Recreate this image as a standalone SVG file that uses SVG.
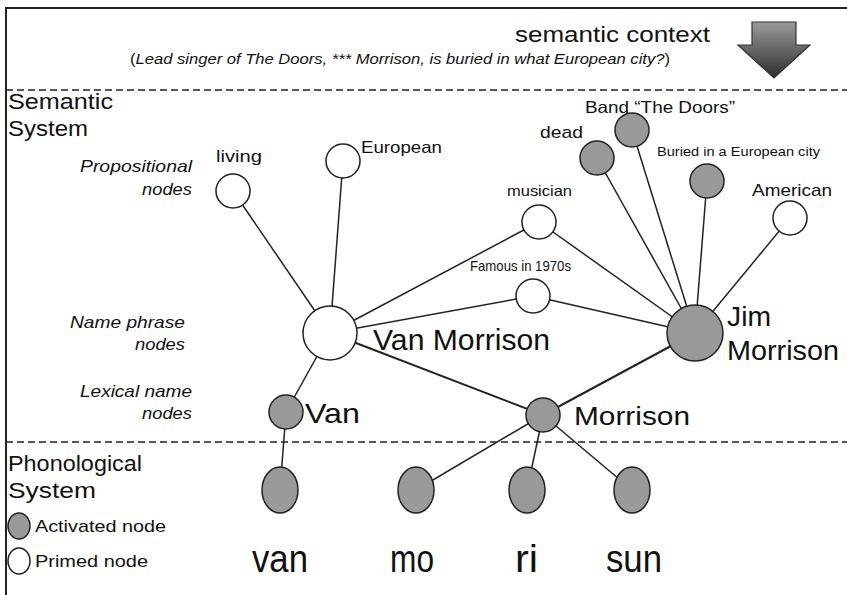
<svg xmlns="http://www.w3.org/2000/svg" width="847" height="595" viewBox="0 0 847 595">
<defs>
<linearGradient id="ag" x1="0" y1="0" x2="0" y2="1">
<stop offset="0" stop-color="#9a9a9a"/>
<stop offset="1" stop-color="#2e2e2e"/>
</linearGradient>
</defs>
<style>
text{font-family:"Liberation Sans",Arial,sans-serif;fill:#111}
.it{font-style:italic}
.n{stroke:#222;stroke-width:1.5}
.a{fill:#999}
.p{fill:#fff}
.c line{stroke:#222;stroke-width:1.5}
.dash{stroke:#222;stroke-width:1.5;stroke-dasharray:7 4}
</style>
<rect width="847" height="595" fill="#fff"/>
<path d="M6 595 V8 H847" fill="none" stroke="#222" stroke-width="2"/>
<line class="dash" x1="6" y1="90" x2="847" y2="90"/>
<line class="dash" x1="6" y1="442" x2="847" y2="442"/>

<g id="header">
<text x="515" y="42" font-size="22" textLength="195" lengthAdjust="spacingAndGlyphs">semantic  context</text>
<text x="130" y="64" font-size="14.5" textLength="540" lengthAdjust="spacingAndGlyphs">(<tspan class="it">Lead singer of The Doors, *** Morrison, is buried in what European city?</tspan>)</text>
<path d="M752 22 H796 V45 H810 L774 78 L738 45 H752 Z" fill="url(#ag)" stroke="#333" stroke-width="1.2"/>
</g>

<g id="labels">
<text x="8" y="109" font-size="22" textLength="105" lengthAdjust="spacingAndGlyphs">Semantic</text>
<text x="8" y="136" font-size="22" textLength="80" lengthAdjust="spacingAndGlyphs">System</text>
<text x="192" y="172" font-size="16.5" class="it" text-anchor="end" textLength="112" lengthAdjust="spacingAndGlyphs">Propositional</text>
<text x="192" y="195" font-size="16.5" class="it" text-anchor="end" textLength="50" lengthAdjust="spacingAndGlyphs">nodes</text>
<text x="185" y="328" font-size="16.5" class="it" text-anchor="end" textLength="115" lengthAdjust="spacingAndGlyphs">Name phrase</text>
<text x="185" y="350" font-size="16.5" class="it" text-anchor="end" textLength="50" lengthAdjust="spacingAndGlyphs">nodes</text>
<text x="192" y="397" font-size="16.5" class="it" text-anchor="end" textLength="112" lengthAdjust="spacingAndGlyphs">Lexical name</text>
<text x="192" y="419" font-size="16.5" class="it" text-anchor="end" textLength="50" lengthAdjust="spacingAndGlyphs">nodes</text>
<text x="8" y="471" font-size="22" textLength="134" lengthAdjust="spacingAndGlyphs">Phonological</text>
<text x="8" y="498" font-size="22" textLength="88" lengthAdjust="spacingAndGlyphs">System</text>
</g>

<g class="c">
<line x1="233" y1="191" x2="330" y2="333"/>
<line x1="343" y1="161" x2="330" y2="333"/>
<line x1="539" y1="222" x2="330" y2="333"/>
<line x1="533" y1="296" x2="330" y2="333"/>
<line x1="539" y1="222" x2="695" y2="333"/>
<line x1="533" y1="296" x2="695" y2="333"/>
<line x1="597" y1="158" x2="695" y2="333"/>
<line x1="632" y1="130" x2="695" y2="333"/>
<line x1="707" y1="181" x2="695" y2="333"/>
<line x1="790" y1="218" x2="695" y2="333"/>
<line x1="330" y1="333" x2="286" y2="412"/>
<line x1="330" y1="333" x2="543" y2="415" style="stroke-width:2"/>
<line x1="695" y1="333" x2="543" y2="415" style="stroke-width:2"/>
<line x1="286" y1="412" x2="280" y2="490"/>
<line x1="543" y1="415" x2="416" y2="490"/>
<line x1="543" y1="415" x2="527" y2="490"/>
<line x1="543" y1="415" x2="632" y2="490"/>
</g>

<g id="living"><circle class="n p" cx="233" cy="191" r="17"/><text x="216" y="162" font-size="16.5" textLength="46" lengthAdjust="spacingAndGlyphs">living</text></g>
<g id="european"><circle class="n p" cx="343" cy="161" r="17"/><text x="361" y="153" font-size="16.5" textLength="81" lengthAdjust="spacingAndGlyphs">European</text></g>
<g id="musician"><circle class="n p" cx="539" cy="222" r="17"/><text x="507" y="196" font-size="14.5" textLength="65" lengthAdjust="spacingAndGlyphs">musician</text></g>
<g id="famous"><circle class="n p" cx="533" cy="296" r="17"/><text x="470" y="271" font-size="14.5" textLength="101" lengthAdjust="spacingAndGlyphs">Famous in 1970s</text></g>
<g id="dead"><circle class="n a" cx="597" cy="158" r="17"/><text x="540" y="138" font-size="17" textLength="43" lengthAdjust="spacingAndGlyphs">dead</text></g>
<g id="band"><circle class="n a" cx="632" cy="130" r="17"/><text x="585" y="113" font-size="16.5" textLength="150" lengthAdjust="spacingAndGlyphs">Band “The Doors”</text></g>
<g id="buried"><circle class="n a" cx="707" cy="181" r="17"/><text x="657" y="156" font-size="13" textLength="163" lengthAdjust="spacingAndGlyphs">Buried in a European city</text></g>
<g id="american"><circle class="n p" cx="790" cy="218" r="17"/><text x="752" y="196" font-size="17" textLength="80" lengthAdjust="spacingAndGlyphs">American</text></g>

<g id="vanmorrison"><circle class="n p" cx="330" cy="333" r="27"/><text x="373" y="350" font-size="29" textLength="177" lengthAdjust="spacingAndGlyphs">Van Morrison</text></g>
<g id="jimmorrison"><circle class="n a" cx="695" cy="333" r="28"/><text x="727" y="326" font-size="28" textLength="44" lengthAdjust="spacingAndGlyphs">Jim</text><text x="727" y="360" font-size="28" textLength="112" lengthAdjust="spacingAndGlyphs">Morrison</text></g>
<g id="van"><circle class="n a" cx="286" cy="412" r="17"/><text x="305" y="423" font-size="28" textLength="55" lengthAdjust="spacingAndGlyphs">Van</text></g>
<g id="morrison"><circle class="n a" cx="543" cy="415" r="17"/><text x="574" y="425" font-size="26" textLength="116" lengthAdjust="spacingAndGlyphs">Morrison</text></g>

<g id="ph-van"><ellipse class="n a" cx="280" cy="490" rx="18" ry="23"/><text x="252" y="572" font-size="38" textLength="56" lengthAdjust="spacingAndGlyphs">van</text></g>
<g id="ph-mo"><ellipse class="n a" cx="416" cy="490" rx="18" ry="23"/><text x="390" y="572" font-size="38" textLength="44" lengthAdjust="spacingAndGlyphs">mo</text></g>
<g id="ph-ri"><ellipse class="n a" cx="527" cy="490" rx="18" ry="23"/><text x="515" y="572" font-size="38" textLength="23" lengthAdjust="spacingAndGlyphs">ri</text></g>
<g id="ph-sun"><ellipse class="n a" cx="632" cy="490" rx="18" ry="23"/><text x="606" y="572" font-size="38" textLength="56" lengthAdjust="spacingAndGlyphs">sun</text></g>

<g id="legend">
<ellipse class="n a" cx="19" cy="526" rx="11" ry="13"/><text x="35" y="532" font-size="17" textLength="131" lengthAdjust="spacingAndGlyphs">Activated node</text>
<ellipse class="n p" cx="19" cy="561" rx="11" ry="13"/><text x="35" y="567" font-size="17" textLength="113" lengthAdjust="spacingAndGlyphs">Primed node</text>
</g>
</svg>
